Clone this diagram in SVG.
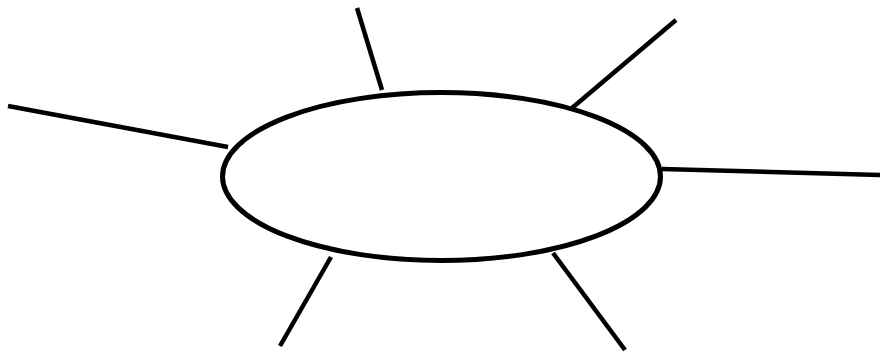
<svg xmlns="http://www.w3.org/2000/svg" width="880" height="354" viewBox="0 0 880 354">
<style>
.n{fill:#fff;stroke:#000;stroke-width:5}
.c line{stroke:#000;stroke-width:4.5;stroke-linecap:butt}
</style>
<rect width="880" height="354" fill="#fff"/>
<g id="connectors" class="c">
<line x1="357" y1="8" x2="382" y2="90"/>
<line x1="676" y1="20" x2="572" y2="108"/>
<line x1="8" y1="106" x2="228" y2="147"/>
<line x1="662" y1="169" x2="880" y2="175"/>
<line x1="331" y1="257" x2="280" y2="346"/>
<line x1="553" y1="253" x2="625" y2="350"/>
</g>
<g id="center">
<ellipse class="n" cx="441.5" cy="176.5" rx="219" ry="84"/>
</g>
</svg>
